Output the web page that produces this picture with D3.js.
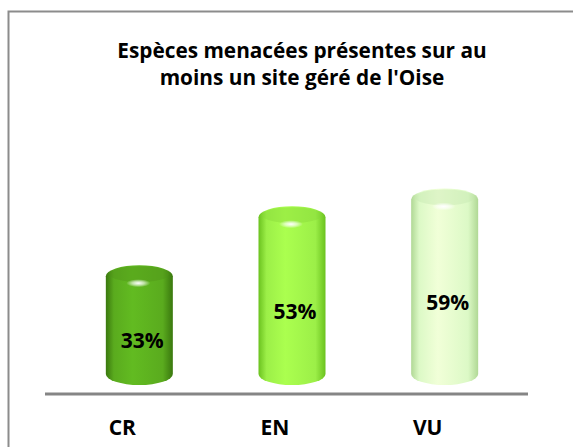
<!DOCTYPE html>
<html>
<head>
<meta charset="utf-8">
<script src="https://cdn.jsdelivr.net/npm/d3@7"></script>
<style>
  html, body { margin: 0; padding: 0; background: #fff; }
  svg { display: block; }
</style>
</head>
<body>
<svg id="chart"></svg>
<script>
const width = 573;
const height = 447;

const title = ["Espèces menacées présentes sur au", "moins un site géré de l'Oise"];
const categories = ["CR", "EN", "VU"];
const values = [33, 53, 59];
const labels = ["33%", "53%", "59%"];
// body / edge / cap colours per bar
const bodyColors = ["#5aab1e", "#9cef48", "#dcf9c6"];
const edgeColors = ["#3a780e", "#6bc21f", "#b0d895"];
const capColors = ["#4f9419", "#86d63a", "#c4e6ae"];

const svg = d3.select("#chart")
    .attr("width", width)
    .attr("height", height)
    .attr("viewBox", [0, 0, width, height]);

const fontFamily = "'Open Sans', 'Liberation Sans', sans-serif";

// frame (only top and left edges are inside the picture)
svg.append("rect")
    .attr("x", 8.5).attr("y", 11.5)
    .attr("width", 600).attr("height", 500)
    .attr("fill", "#fff")
    .attr("stroke", "#8c8c8c")
    .attr("stroke-width", 2);

svg.append("text")
    .attr("x", 302)
    .attr("text-anchor", "middle")
    .attr("font-family", fontFamily)
    .attr("font-weight", "bold")
    .attr("font-size", 20.8)
    .attr("fill", "#000")
    .selectAll("tspan")
    .data(title)
    .enter().append("tspan")
    .attr("x", 302)
    .attr("y", (d, i) => 58 + i * 27)
    .text(d => d);

const baseY = 385;
const x = d3.scaleBand().domain(categories).range([46, 504]);
const y = d3.scaleLinear().domain([0, 70]).range([baseY - 11.5, baseY - 11.5 - 206.5]);
const depth = 17;
const barW = 67;
const ry = 11;

const defs = svg.append("defs");
categories.forEach((c, i) => {
    const g = defs.append("linearGradient").attr("id", "body" + i)
        .attr("x1", 0).attr("x2", 1).attr("y1", 0).attr("y2", 0);
    g.append("stop").attr("offset", 0).attr("stop-color", edgeColors[i]);
    g.append("stop").attr("offset", 0.12).attr("stop-color", bodyColors[i]);
    g.append("stop").attr("offset", 0.4).attr("stop-color", d3.color(bodyColors[i]).brighter(0.25));
    g.append("stop").attr("offset", 0.85).attr("stop-color", bodyColors[i]);
    g.append("stop").attr("offset", 1).attr("stop-color", edgeColors[i]);
});
const hl = defs.append("radialGradient").attr("id", "hl");
hl.append("stop").attr("offset", 0).attr("stop-color", "#fff").attr("stop-opacity", 1);
hl.append("stop").attr("offset", 0.5).attr("stop-color", "#fff").attr("stop-opacity", 0.6);
hl.append("stop").attr("offset", 1).attr("stop-color", "#fff").attr("stop-opacity", 0);

const data = categories.map((c, i) => ({ c, v: values[i], label: labels[i], i }));

const bars = svg.selectAll("g.bar")
    .data(data)
    .enter().append("g")
    .attr("class", "bar");

bars.append("path")
    .attr("d", d => {
        const cx = x(d.c) + x.bandwidth() / 2 + depth;
        const x0 = cx - barW / 2, x1 = cx + barW / 2;
        const top = y(d.v) - ry;
        const rx = barW / 2;
        return `M${x0},${top + ry} A${rx},${ry} 0 0 1 ${x1},${top + ry}`
            + ` L${x1},${baseY - ry} A${rx},${ry} 0 0 1 ${x0},${baseY - ry} Z`;
    })
    .attr("fill", d => `url(#body${d.i})`);

// top cap
bars.append("ellipse")
    .attr("cx", d => x(d.c) + x.bandwidth() / 2 + depth)
    .attr("cy", d => y(d.v) - 2)
    .attr("rx", barW / 2 - 4)
    .attr("ry", ry - 3)
    .attr("fill", d => capColors[d.i])
    .attr("opacity", 0.4);

// highlight
bars.append("ellipse")
    .attr("cx", d => x(d.c) + x.bandwidth() / 2 + depth - 1)
    .attr("cy", d => y(d.v) + 7)
    .attr("rx", 12)
    .attr("ry", 4)
    .attr("fill", "url(#hl)");

bars.append("text")
    .attr("x", d => x(d.c) + x.bandwidth() / 2 + depth + 3)
    .attr("y", d => (y(d.v) + baseY) / 2 + 17.5)
    .attr("text-anchor", "middle")
    .attr("font-family", fontFamily)
    .attr("font-weight", "bold")
    .attr("font-size", 21)
    .attr("fill", "#000")
    .text(d => d.label);

// baseline axis
svg.append("line")
    .attr("x1", 45).attr("x2", 528)
    .attr("y1", 394).attr("y2", 394)
    .attr("stroke", "#858585")
    .attr("stroke-width", 3);

const xAxis = d3.axisBottom(x).tickSize(0).tickPadding(0);
const ax = svg.append("g").attr("transform", "translate(0,420)").call(xAxis);
ax.select(".domain").remove();
ax.selectAll("text")
    .attr("font-family", fontFamily)
    .attr("font-weight", "bold")
    .attr("font-size", 21)
    .attr("fill", "#000");
</script>
</body>
</html>
